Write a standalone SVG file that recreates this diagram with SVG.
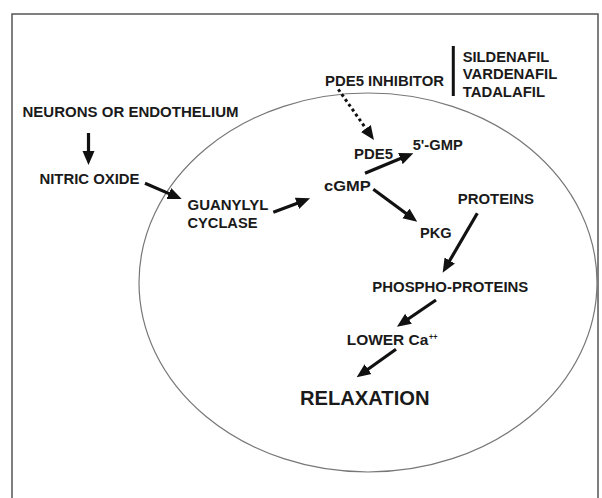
<svg xmlns="http://www.w3.org/2000/svg" width="602" height="498" viewBox="0 0 602 498">
<style>
.t{font-family:"Liberation Sans",Arial,sans-serif;font-weight:bold;font-size:14.5px;fill:#1a1a1a}
.big{font-size:20px}
.sup{font-size:9px}
.ar{stroke:#111;stroke-width:3.2;fill:none;marker-end:url(#ah)}
.dot{stroke:#111;stroke-width:3;fill:none;stroke-dasharray:3 3;marker-end:url(#ah)}
</style>
<defs>
<marker id="ah" markerUnits="userSpaceOnUse" markerWidth="14" markerHeight="13" viewBox="0 0 14 13" refX="4" refY="6.5" orient="auto">
<path d="M0,0.5 L14,6.5 L0,12.5 z" fill="#111"/>
</marker>
</defs>
<rect x="0" y="0" width="602" height="498" fill="#fff"/>
<rect x="12" y="14" width="586" height="520" fill="none" stroke="#555" stroke-width="1.5"/>
<g id="cell"><ellipse cx="368" cy="282.5" rx="229" ry="189.5" fill="none" stroke="#777" stroke-width="1.2"/></g>
<g id="connectors">
<line class="ar" x1="88.5" y1="133" x2="88.5" y2="155"/>
<line class="ar" x1="145" y1="183.3" x2="172.5" y2="195.1"/>
<line class="ar" x1="273.3" y1="212.3" x2="300.7" y2="201.9"/>
<line class="ar" x1="365" y1="173.3" x2="404.1" y2="157.1"/>
<line class="ar" x1="373.3" y1="189.3" x2="409.2" y2="215.8"/>
<line class="ar" x1="477.3" y1="213.3" x2="447.7" y2="264"/>
<line class="ar" x1="436" y1="300" x2="405.2" y2="321"/>
<line class="ar" x1="396" y1="349.3" x2="364.8" y2="371.5"/>
<line class="dot" x1="338.3" y1="89.3" x2="368.2" y2="131.8"/>
<line x1="453.3" y1="46" x2="453.3" y2="96" stroke="#111" stroke-width="3"/>
</g>
<g id="neurons"><text class="t" x="22.5" y="117" textLength="216" lengthAdjust="spacingAndGlyphs">NEURONS OR ENDOTHELIUM</text></g>
<g id="no"><text class="t" x="39.5" y="184" textLength="100" lengthAdjust="spacingAndGlyphs">NITRIC OXIDE</text></g>
<g id="gc"><text class="t" x="187.5" y="209.5" textLength="81" lengthAdjust="spacingAndGlyphs">GUANYLYL</text><text class="t" x="187.5" y="227.5" textLength="70" lengthAdjust="spacingAndGlyphs">CYCLASE</text></g>
<g id="inhibitor"><text class="t" x="325" y="86" textLength="119" lengthAdjust="spacingAndGlyphs">PDE5 INHIBITOR</text></g>
<g id="drugs"><text class="t" x="462.7" y="61.5" textLength="86.6" lengthAdjust="spacingAndGlyphs">SILDENAFIL</text><text class="t" x="462.7" y="79.3" textLength="94.6" lengthAdjust="spacingAndGlyphs">VARDENAFIL</text><text class="t" x="462.7" y="96.7" textLength="82.3" lengthAdjust="spacingAndGlyphs">TADALAFIL</text></g>
<g id="pde5"><text class="t" x="354" y="159" textLength="39" lengthAdjust="spacingAndGlyphs">PDE5</text></g>
<g id="gmp5"><text class="t" x="412.7" y="150" textLength="50" lengthAdjust="spacingAndGlyphs">5'-GMP</text></g>
<g id="cgmp"><text class="t" x="324" y="191" textLength="46.7" lengthAdjust="spacingAndGlyphs">cGMP</text></g>
<g id="pkg"><text class="t" x="420" y="238.3" textLength="31.7" lengthAdjust="spacingAndGlyphs">PKG</text></g>
<g id="proteins"><text class="t" x="457.7" y="204.3" textLength="76.3" lengthAdjust="spacingAndGlyphs">PROTEINS</text></g>
<g id="phospho"><text class="t" x="372.3" y="291.5" textLength="156" lengthAdjust="spacingAndGlyphs">PHOSPHO-PROTEINS</text></g>
<g id="calcium"><text class="t" x="346.7" y="345" textLength="81.6" lengthAdjust="spacingAndGlyphs">LOWER Ca</text><text class="t sup" x="429" y="340" textLength="8.5" lengthAdjust="spacingAndGlyphs">++</text></g>
<g id="relaxation"><text class="t big" x="300" y="405" textLength="129.5" lengthAdjust="spacingAndGlyphs">RELAXATION</text></g>
</svg>
